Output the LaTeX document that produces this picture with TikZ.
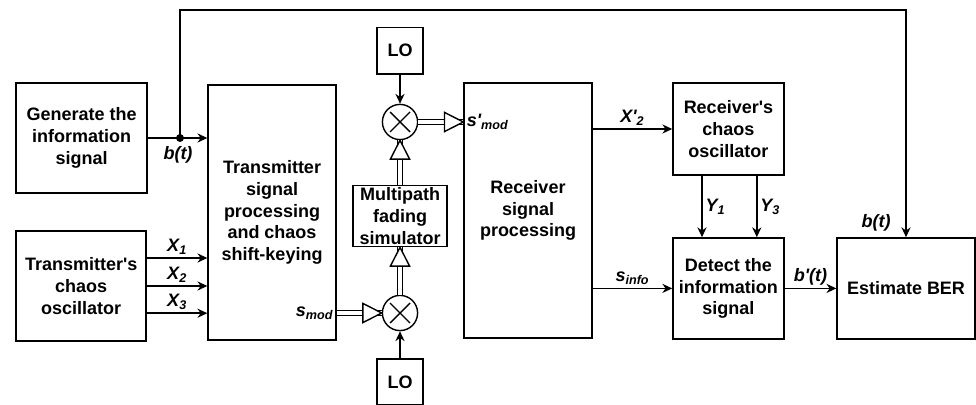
\documentclass[tikz,border=0pt]{standalone}
\usepackage{fontspec}
\setmainfont{Liberation Sans}
\usepackage{tikz}
\usetikzlibrary{positioning,arrows.meta,calc,decorations.markings}

\begin{document}
\begin{tikzpicture}[
  line width=1pt,
  every node/.style={font=\fontsize{12.8}{15.6}\selectfont\bfseries},
  blk/.style={draw,align=center,inner sep=1pt},
  mixer/.style={draw,circle,minimum size=0.88cm,inner sep=0pt,
    path picture={
      \draw (path picture bounding box.center) +(-0.25,-0.25) -- +(0.25,0.25)
            (path picture bounding box.center) +(-0.25,0.25) -- +(0.25,-0.25);
    }},
  sig/.style={-{Stealth[length=7pt,width=6.5pt]}},
  dbl/.style={
    line width=4.6pt,
    postaction={draw=white,line width=2.6pt},
    postaction={decorate},
    decoration={
      markings,
      mark=at position 1 with {
        \draw[fill=white,line width=1pt]
          (0,0) -- (-0.47cm,0.24cm) -- (-0.47cm,-0.24cm) -- cycle;
      }
    }
  },
  lbl/.style={font=\fontsize{12.8}{15.6}\selectfont\bfseries\itshape,inner sep=2pt}
]

\useasboundingbox (0,0) rectangle (24.4,10.1);

% ==================================================
% 送信側
% ==================================================
\node[blk,minimum width=3.275cm,minimum height=2.75cm]
  (gen) at (2.04,6.65) {Generate the\\information\\signal};
\node[blk,minimum width=3.25cm,minimum height=2.75cm]
  (txosc) at (2.03,2.95) {Transmitter\textquotesingle s\\chaos\\oscillator};
\node[blk,minimum width=3.2cm,minimum height=6.375cm]
  (txsp) at (6.8,4.79) {Transmitter\\signal\\processing\\and chaos\\shift-keying};

% 分岐点
\coordinate (jn) at (4.5,6.65);
\coordinate (fbtop) at (4.5,9.85);

% ==================================================
% チャネル（ミキサと LO）
% ==================================================
\node[blk,minimum size=1.15cm] (loup) at (10,8.83) {LO};
\node[mixer] (mixup) at (10,7.05) {};
\node[blk,inner sep=1.5pt,minimum width=2.35cm] (fade) at (10,4.7)
  {Multipath\\fading\\simulator};
\node[mixer] (mixlo) at (10,2.275) {};
\node[blk,minimum size=1.15cm] (lodn) at (10,0.55) {LO};

% ==================================================
% 受信側
% ==================================================
\node[blk,minimum width=3.2cm,minimum height=6.375cm]
  (rxsp) at (13.2,4.84) {Receiver\\signal\\processing};
\node[blk,minimum width=2.775cm,minimum height=2.3cm]
  (rxosc) at (18.21,6.875) {Receiver\textquotesingle s\\chaos\\oscillator};
\node[blk,minimum width=2.775cm,minimum height=2.525cm]
  (detect) at (18.21,2.89) {Detect the\\information\\signal};
\node[blk,minimum width=3.45cm,minimum height=2.525cm]
  (ber) at (22.65,2.89) {Estimate BER};

% ==================================================
% 接続
% ==================================================
% b(t)
\draw (gen.east) -- (jn);
\draw[sig] (jn) -- (txsp.west |- jn);
\fill (jn) circle (0.1);
\node[lbl,below=0.12cm of jn,xshift=-0.05cm] (bt) {b(t)};

% 帰還線
\draw[sig] (jn) |- (ber.north |- fbtop) -- (ber.north);
\node[lbl,anchor=south east] (btr) at ($(ber.north)+(-0.3,0.05)$) {b(t)};

% X_1, X_2, X_3
\foreach \i/\dy in {1/0.7,2/0,3/-0.68}{
  \draw[sig] ($(txosc.east)+(0,\dy)$) -- ($(txsp.west |- txosc.east)+(0,\dy)$)
    node[lbl,midway,above] {X\textsubscript{\i}};
}

% 変調信号
\node[lbl,anchor=east] (smod) at (txsp.east |- mixlo) {s\textsubscript{mod}};
\draw[dbl] (txsp.east |- mixlo) -- (mixlo);
\draw[sig] (lodn) -- (mixlo);
\draw[dbl] (mixlo) -- (fade);
\draw[dbl] (fade) -- (mixup);
\draw[sig] (loup) -- (mixup);
\draw[dbl] (mixup) -- (rxsp.west |- mixup);
\node[lbl,anchor=west] (smodp) at (rxsp.west |- mixup)
  {s\textquotesingle\textsubscript{mod}};

% 受信処理
\draw[sig] (rxsp.east |- rxosc) -- (rxosc)
  node[lbl,midway,above] {X\textquotesingle\textsubscript{2}};
\draw[sig] (rxsp.east |- detect) -- (detect)
  node[lbl,midway,above] {s\textsubscript{info}};

% Y_1, Y_3
\draw[sig] ($(rxosc.south)+(-0.66,0)$) -- ($(detect.north)+(-0.66,0)$)
  node[lbl,midway,right] {Y\textsubscript{1}};
\draw[sig] ($(rxosc.south)+(0.71,0)$) -- ($(detect.north)+(0.71,0)$)
  node[lbl,midway,right] {Y\textsubscript{3}};

% b'(t)
\draw[sig] (detect) -- (ber)
  node[lbl,midway,above] {b\textquotesingle(t)};

\end{tikzpicture}
\end{document}
